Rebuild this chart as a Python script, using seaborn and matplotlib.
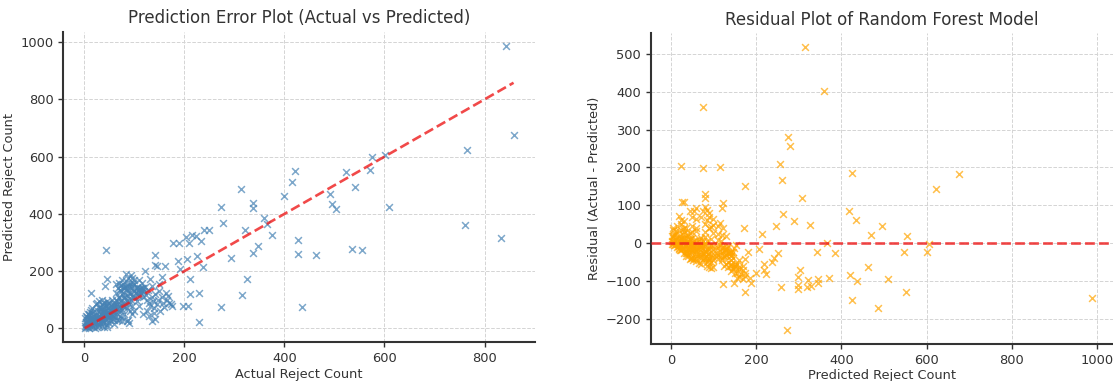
import numpy as np
import pandas as pd
import matplotlib
matplotlib.use("Agg")
import matplotlib.pyplot as plt
import seaborn as sns

# ---- data: (actual, predicted) reject counts ----
outlier_actual = [842, 858, 765, 761, 833, 609, 602, 576, 571, 524, 541, 491, 496, 503, 536, 555,
                  463, 428, 427, 436, 421, 416, 399, 375, 359, 366, 347, 338, 338, 337, 321, 326,
                  314, 316, 293, 277, 273, 274, 250, 239, 234, 224, 215, 210, 203, 189, 178, 187,
                  205, 192, 238, 226, 211, 211, 229, 229, 198, 208, 141, 142, 146, 162, 156, 149,
                  135, 163, 173, 135, 141, 121, 132, 44, 14, 45, 42, 83, 111]
outlier_predicted = [987, 675, 623, 360, 315, 424, 605, 600, 553, 547, 495, 469, 434, 417, 279, 275,
                     255, 260, 308, 76, 551, 510, 463, 326, 385, 366, 289, 262, 437, 420, 343, 174,
                     486, 116, 247, 370, 424, 76, 345, 345, 304, 322, 328, 299, 319, 299, 299, 237,
                     243, 208, 214, 252, 171, 119, 123, 24, 79, 79, 258, 223, 218, 218, 180, 154,
                     148, 123, 84, 27, 32, 200, 174, 273, 123, 174, 148, 189, 142]

cluster_actual = [1, 2, 3, 3, 4, 5, 5, 6, 6, 7, 8, 8, 9, 10, 10, 11, 12, 12, 13, 14, 15, 15, 16, 17,
                  18, 19, 20, 20, 4, 7, 9, 11, 13, 2, 16, 18, 25, 30, 35, 40, 22, 45, 28, 38, 50,
                  22, 24, 25, 26, 27, 28, 29, 30, 31, 32, 33, 34, 35, 36, 37, 38, 39, 40, 41, 42,
                  43, 44, 45, 46, 47, 48, 49, 50, 51, 52, 53, 54, 55, 56, 57, 58, 59, 60, 24, 30,
                  36, 26, 34, 40, 46, 32, 38, 44, 50, 56, 60,
                  61, 62, 63, 64, 65, 66, 67, 68, 69, 70, 71, 72, 73, 74, 75, 76, 77, 78, 79, 80,
                  81, 82, 84, 85, 86, 87, 88, 89, 90, 91, 92, 93, 94, 95, 96, 97, 98, 99, 100, 64,
                  70, 76, 88, 90, 85, 65, 75, 80, 86, 92, 96, 82, 78, 72,
                  105, 108, 110, 112, 114, 116, 118, 120, 122, 124, 126, 128, 130, 132, 135, 138,
                  140, 142, 145, 148, 150, 152, 155, 158, 160, 165, 168, 170, 175, 110, 112, 108,
                  115, 118, 104, 106, 102, 125, 118, 130, 100, 110, 95, 140,
                  5, 15, 10, 45, 70, 60, 45, 80, 50, 30, 75, 90, 65, 40, 55, 35, 25, 60, 20, 35,
                  50, 65, 30, 42, 58, 72, 85, 95, 80, 70, 100, 90, 105, 115, 95, 110, 85, 100,
                  45, 60, 75, 70]
cluster_predicted = [3, 8, 14, 22, 6, 18, 30, 10, 40, 24, 4, 16, 35, 12, 48, 26, 8, 20, 38, 15, 28,
                     55, 10, 42, 22, 32, 14, 60, 45, 52, 2, 58, 65, 35, 70, 5, 5, 8, 10, 6, 3, 12,
                     15, 20, 18,
                     30, 48, 20, 38, 62, 28, 45, 35, 75, 22, 50, 40, 85, 30, 58, 45, 68, 25, 52, 38,
                     80, 60, 32, 48, 70, 90, 55, 40, 65, 28, 78, 50, 100, 62, 45, 72, 88, 55, 85, 95,
                     100, 90, 68, 88, 95, 60, 78, 42, 75, 35, 82,
                     40, 70, 100, 125, 50, 85, 140, 60, 110, 75, 150, 45, 95, 130, 65, 120, 155, 80,
                     105, 50, 145, 90, 165, 70, 135, 115, 175, 95, 150, 125, 60, 100, 185, 140, 80,
                     160, 110, 130, 170, 155, 160, 170, 30, 18, 25, 28, 35, 140, 150, 160, 175, 120,
                     145, 135,
                     95, 120, 130, 138, 125, 140, 110, 132, 145, 118, 100, 135, 90, 80, 110, 95, 70,
                     120, 85, 100, 130, 60, 110, 90, 75, 100, 115, 90, 80, 115, 128, 135, 130, 142,
                     125, 140, 110, 60, 50, 45, 60, 80, 50, 55,
                     20, 35, 50, 50, 65, 80, 85, 75, 90, 70, 90, 85, 95, 60, 45, 25, 40, 30, 25, 55,
                     60, 70, 45, 30, 65, 80, 100, 115, 110, 105, 130, 125, 145, 160, 150, 170, 140,
                     155, 5, 15, 25, 30]

actual = np.array(outlier_actual + cluster_actual, dtype=float)
predicted = np.array(outlier_predicted + cluster_predicted, dtype=float)
df = pd.DataFrame({"actual": actual, "predicted": predicted})
df["residual"] = df["actual"] - df["predicted"]

titles = ["Prediction Error Plot (Actual vs Predicted)", "Residual Plot of Random Forest Model"]
xlabels = ["Actual Reject Count", "Predicted Reject Count"]
ylabels = ["Predicted Reject Count", "Residual (Actual - Predicted)"]

# ---- style ----
sns.set_theme(style="ticks")
text_c = "#333333"
plt.rcParams.update({
    "font.family": ["DejaVu Sans"],
    "axes.grid": True,
    "grid.linestyle": "--",
    "grid.color": "#d4d4d4",
    "grid.linewidth": 0.7,
    "axes.edgecolor": "#333333",
    "axes.linewidth": 1.5,
    "xtick.color": text_c,
    "ytick.color": text_c,
    "xtick.labelcolor": text_c,
    "ytick.labelcolor": text_c,
    "axes.labelcolor": text_c,
    "text.color": text_c,
    "xtick.labelsize": 9.4,
    "ytick.labelsize": 9.4,
    "xtick.major.size": 3.5,
    "ytick.major.size": 3.5,
    "xtick.major.width": 1.0,
    "ytick.major.width": 1.0,
})

W, H = 1113, 381
fig = plt.figure(figsize=(W / 100, H / 100), dpi=100)
ax1 = fig.add_axes([63.3 / W, 1 - 342.3 / H, (535 - 63.3) / W, (342.3 - 31.7) / H])
ax2 = fig.add_axes([650.7 / W, 1 - 344 / H, (1112.5 - 650.7) / W, (344 - 33) / H])

# left: prediction error
sns.scatterplot(data=df, x="actual", y="predicted", ax=ax1, marker="x", color="#4682b4",
                alpha=0.7, s=24, linewidth=1.1, zorder=3)
lo, hi = df["actual"].min(), df["actual"].max()
sns.lineplot(x=[lo, hi], y=[lo, hi], ax=ax1, color="#ee1c1c", alpha=0.8, linestyle="--",
             linewidth=1.9, zorder=4)

# right: residuals
sns.scatterplot(data=df, x="predicted", y="residual", ax=ax2, marker="x", color="#ffa500",
                alpha=0.7, s=24, linewidth=1.1, zorder=3)
ax2.axhline(0, color="#ee1c1c", alpha=0.8, linestyle="--", linewidth=1.9, zorder=4)

ax1.set_xticks([0, 200, 400, 600, 800])
ax1.set_yticks([0, 200, 400, 600, 800, 1000])
ax2.set_xticks([0, 200, 400, 600, 800, 1000])
ax2.set_yticks([-200, -100, 0, 100, 200, 300, 400, 500])

for ax, t, xl, yl in zip([ax1, ax2], titles, xlabels, ylabels):
    ax.set_title(t, fontsize=12, color=text_c, pad=6)
    ax.set_xlabel(xl, fontsize=9.3, labelpad=2)
    ax.set_ylabel(yl, fontsize=9.3, labelpad=3)
    ax.grid(True, linestyle="--", color="#d4d4d4", linewidth=0.7)
    ax.set_axisbelow(True)
    sns.despine(ax=ax)

fig.savefig("out.png", dpi=100)
